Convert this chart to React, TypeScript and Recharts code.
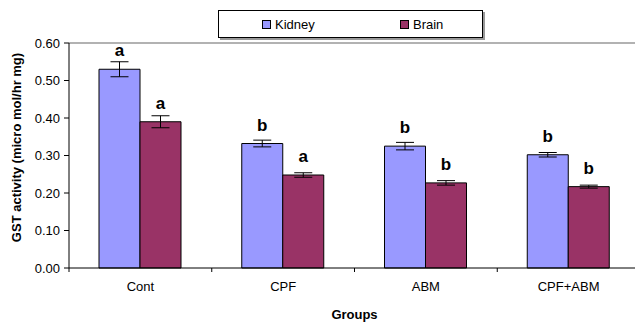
import React from 'react';
import {
  BarChart,
  Bar,
  XAxis,
  YAxis,
  ErrorBar,
  LabelList,
  Legend,
  ReferenceLine,
} from 'recharts';

// --- Data ---

const groups = ['Cont', 'CPF', 'ABM', 'CPF+ABM'];
const kidney = [0.53, 0.332, 0.325, 0.302];
const kidneyErr = [0.02, 0.009, 0.01, 0.006];
const kidneyLetters = ['a', 'b', 'b', 'b'];
const brain = [0.39, 0.248, 0.227, 0.217];
const brainErr = [0.016, 0.006, 0.006, 0.004];
const brainLetters = ['a', 'a', 'b', 'b'];
const yTicks = [0, 0.1, 0.2, 0.3, 0.4, 0.5, 0.6];

const data = groups.map((name, i) => ({
  name,
  kidney: kidney[i],
  kidneyErr: kidneyErr[i],
  brain: brain[i],
  brainErr: brainErr[i],
}));

const FONT = '"Liberation Sans", Arial, sans-serif';
const KIDNEY = '#9999FF';
const BRAIN = '#993366';

// letter above each bar, ~13px over the bar top
const letterLabel = (letters: string[]) => (props: any) => {
  const { x, y, width, index } = props;
  return (
    <text
      x={x + width / 2}
      y={y - 13}
      textAnchor="middle"
      fontFamily={FONT}
      fontSize={17}
      fontWeight="bold"
      fill="#000"
    >
      {letters[index]}
    </text>
  );
};

const YLabel = (props: any) => {
  const { viewBox } = props;
  const cx = 21;
  const cy = viewBox.y + viewBox.height / 2 - 8;
  return (
    <text
      x={cx}
      y={cy}
      transform={`rotate(-90 ${cx} ${cy})`}
      textAnchor="middle"
      fontFamily={FONT}
      fontSize={13}
      fontWeight="bold"
      fill="#000"
    >
      GST activity (micro mol/hr mg)
    </text>
  );
};

const GroupTick = (props: any) => {
  const { x, y, payload, index, width } = props;
  const half = payload.offset || width / groups.length / 2;
  const last = index === groups.length - 1;
  return (
    <g>
      <line x1={x - half} x2={x - half} y1={y} y2={y + 4} stroke="#000" />
      {last && <line x1={x + half} x2={x + half} y1={y} y2={y + 4} stroke="#000" />}
      <text x={x} y={y + 23} textAnchor="middle" fontFamily={FONT} fontSize={13} fill="#000">
        {payload.value}
      </text>
    </g>
  );
};

const LegendItem = ({ color, label, left }: { color: string; label: string; left: number }) => (
  <div
    style={{
      position: 'absolute',
      left,
      top: 0,
      height: 26,
      display: 'flex',
      alignItems: 'center',
      gap: 4,
      fontFamily: FONT,
      fontSize: 13,
      color: '#000',
    }}
  >
    <span
      style={{
        display: 'inline-block',
        width: 7,
        height: 7,
        flex: '0 0 auto',
        background: color,
        border: '1px solid #000',
      }}
    />
    <span style={{ lineHeight: '15px' }}>{label}</span>
  </div>
);

const LegendBox = () => (
  <div
    style={{
      position: 'relative',
      width: 263,
      height: 26,
      background: '#fff',
      border: '1px solid #000',
      boxShadow: '2px 2px 0 #999',
    }}
  >
    <LegendItem color={KIDNEY} label="Kidney" left={43} />
    <LegendItem color={BRAIN} label="Brain" left={181} />
  </div>
);

export default function App() {
  return (
    <div style={{ position: 'absolute', left: 0, top: 0 }}>
      <BarChart
        width={645}
        height={323}
        data={data}
        margin={{ top: 43, right: 5, left: 0, bottom: 0 }}
        barGap={0}
        barSize={41}
      >
        <XAxis
          dataKey="name"
          height={55}
          axisLine={{ stroke: '#000' }}
          tickLine={false}
          tickSize={0}
          tickMargin={0}
          tick={<GroupTick />}
          label={{
            value: 'Groups',
            position: 'insideBottom',
            offset: 4,
            style: { fontFamily: FONT, fontSize: 13, fontWeight: 'bold', fill: '#000' },
          }}
        />
        <YAxis
          width={69}
          domain={[0, 0.6]}
          ticks={yTicks}
          interval={0}
          axisLine={{ stroke: '#000' }}
          tickLine={{ stroke: '#000' }}
          tickSize={5}
          tickMargin={4}
          tickFormatter={(v: number) => v.toFixed(2)}
          tick={{ fontFamily: FONT, fontSize: 13, fill: '#000' }}
          label={<YLabel />}
        />
        <ReferenceLine y={0.6} stroke="#999" strokeWidth={1.5} />
        <Legend
          verticalAlign="middle"
          align="center"
          layout="horizontal"
          content={<LegendBox />}
          wrapperStyle={{ top: 10, left: 218, width: 270, height: 30 }}
        />
        <Bar dataKey="kidney" fill={KIDNEY} stroke="#000" strokeWidth={1} isAnimationActive={false}>
          <ErrorBar dataKey="kidneyErr" width={9} stroke="#000" strokeWidth={1} direction="y" />
          <LabelList dataKey="kidney" content={letterLabel(kidneyLetters)} />
        </Bar>
        <Bar dataKey="brain" fill={BRAIN} stroke="#000" strokeWidth={1} isAnimationActive={false}>
          <ErrorBar dataKey="brainErr" width={9} stroke="#000" strokeWidth={1} direction="y" />
          <LabelList dataKey="brain" content={letterLabel(brainLetters)} />
        </Bar>
      </BarChart>
    </div>
  );
}
